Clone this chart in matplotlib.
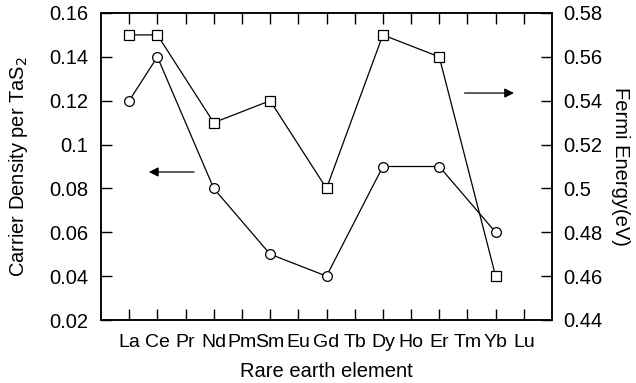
import matplotlib
matplotlib.use("Agg")
import matplotlib.pyplot as plt

plt.rcParams['font.family'] = ['Liberation Sans', 'DejaVu Sans']

# rare earth elements on the x axis
elements = ['La', 'Ce', 'Pr', 'Nd', 'Pm', 'Sm', 'Eu', 'Gd', 'Tb', 'Dy', 'Ho', 'Er', 'Tm', 'Yb', 'Lu']
# measured elements only
meas = ['La', 'Ce', 'Nd', 'Sm', 'Gd', 'Dy', 'Er', 'Yb']
carrier = [0.12, 0.14, 0.08, 0.05, 0.04, 0.09, 0.09, 0.06]
fermi = [0.57, 0.57, 0.53, 0.54, 0.50, 0.57, 0.56, 0.46]

pos = [elements.index(e) + 1 for e in meas]

fig = plt.figure(figsize=(6.36, 3.83), dpi=100)
ax = fig.add_axes([101/636, 1 - 320/383, (552-101)/636, (320-13)/383])
ax2 = ax.twinx()

ax.plot(pos, carrier, '-', color='black', linewidth=0.9, marker='o', markersize=7,
        markerfacecolor='white', markeredgecolor='black', markeredgewidth=0.9)
ax2.plot(pos, fermi, '-', color='black', linewidth=0.9, marker='s', markersize=7,
         markerfacecolor='white', markeredgecolor='black', markeredgewidth=0.9)

ax.set_xlim(0, 16)
ax.set_ylim(0.02, 0.16)
ax2.set_ylim(0.44, 0.58)
ax.set_xticks(range(1, 16))
ax.set_xticklabels(elements)
ax.set_yticks([0.02, 0.04, 0.06, 0.08, 0.1, 0.12, 0.14, 0.16])
ax.set_yticklabels(['0.02', '0.04', '0.06', '0.08', '0.1', '0.12', '0.14', '0.16'])
ax2.set_yticks([0.44, 0.46, 0.48, 0.5, 0.52, 0.54, 0.56, 0.58])
ax2.set_yticklabels(['0.44', '0.46', '0.48', '0.5', '0.52', '0.54', '0.56', '0.58'])

ax.tick_params(axis='x', direction='in', top=True, length=8, width=1, labelsize=14, pad=10)
ax.tick_params(axis='y', direction='in', length=8, width=1, labelsize=14.5, pad=9)
ax2.tick_params(axis='y', direction='in', length=8, width=1, labelsize=14.5, pad=8)
for a in (ax, ax2):
    for s in a.spines.values():
        s.set_linewidth(1.1)

ax.set_xlabel('Rare earth element', fontsize=14.5, labelpad=8)
ax.set_ylabel('Carrier Density per TaS$_2$', fontsize=14.5, labelpad=14)
ax2.set_ylabel('Fermi Energy(eV)', fontsize=14.5, rotation=270, labelpad=20)

# arrows pointing to the axis each curve belongs to
ax.annotate('', xy=(1.6, 0.0875), xytext=(3.4, 0.0875),
            arrowprops=dict(arrowstyle='-|>', color='black', linewidth=0.9, mutation_scale=14))
ax2.annotate('', xy=(14.75, 0.5435), xytext=(12.8, 0.5435),
             arrowprops=dict(arrowstyle='-|>', color='black', linewidth=0.9, mutation_scale=14))

fig.savefig('out.png', dpi=100)
